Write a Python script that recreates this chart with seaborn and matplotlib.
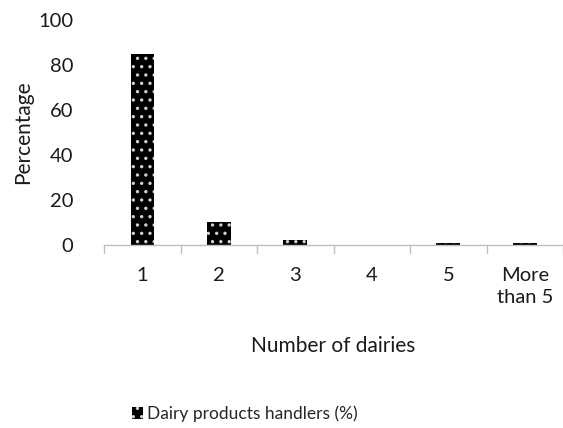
import matplotlib
matplotlib.use("Agg")
import matplotlib.pyplot as plt
import seaborn as sns
import pandas as pd
from matplotlib.patches import Patch

categories = ["1", "2", "3", "4", "5", "More\nthan 5"]
handlers_pct = [85, 10, 2, 0, 1, 1]
series_name = "Dairy products handlers (%)"

sns.set_theme(style="white")
plt.rcParams["font.family"] = ["Lato", "DejaVu Sans"]
plt.rcParams["hatch.color"] = "#d0d0d0"
plt.rcParams["hatch.linewidth"] = 1.2

df = pd.DataFrame({"Number of dairies": categories, "Percentage": handlers_pct})

fig = plt.figure(figsize=(5.63, 4.28), dpi=100)
ax = fig.add_axes([0.185, 0.428, 0.815, 0.525])

sns.barplot(data=df, x="Number of dairies", y="Percentage", ax=ax,
            color="black", width=0.31, saturation=1, linewidth=0)
for bar in ax.patches:
    bar.set_hatch("..")
    bar.set_edgecolor("#d0d0d0")
    bar.set_linewidth(0)

ax.set_ylim(0, 100)
ax.set_yticks([0, 20, 40, 60, 80, 100])
ax.set_xlim(-0.5, len(categories) - 0.5)
ax.set_xticks(range(len(categories)))
ax.set_xticklabels(categories, fontsize=14.5, color="#1a1a1a", linespacing=1.35)
ax.tick_params(axis="y", labelsize=14.5, colors="#1a1a1a", length=0, pad=22)
ax.tick_params(axis="x", length=0, pad=16)
for x in [i + 0.5 for i in range(-1, len(categories))]:
    ax.plot([x, x], [0, -3.5], color="#bfbfbf", lw=1, clip_on=False)

for s in ["top", "right", "left"]:
    ax.spines[s].set_visible(False)
ax.spines["bottom"].set_color("#bfbfbf")
ax.spines["bottom"].set_linewidth(1)

ax.set_xlabel("Number of dairies", fontsize=15, color="#1a1a1a", labelpad=22)
ax.set_ylabel("Percentage", fontsize=15, color="#1a1a1a", labelpad=4)

handle = Patch(facecolor="black", edgecolor="#d0d0d0", hatch="..", linewidth=0)
fig.legend([handle], [series_name], loc="center", bbox_to_anchor=(0.435, 0.033),
           frameon=False, fontsize=12.5, handlelength=0.65, handleheight=0.65,
           handletextpad=0.25)

fig.savefig("out.png", dpi=100)
